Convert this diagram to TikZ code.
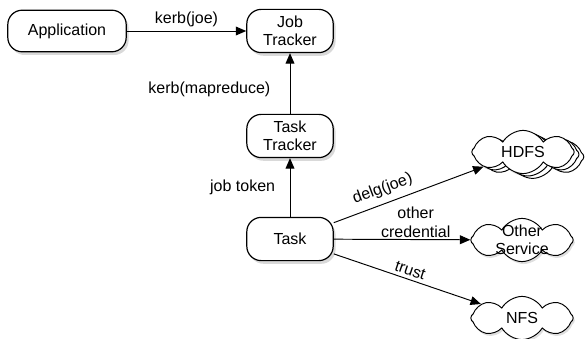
\documentclass[tikz,border=0pt]{standalone}
\usepackage{fontspec}
\setmainfont{Liberation Sans}
\usepackage{tikz}
\usetikzlibrary{arrows.meta,shadows,shapes.symbols}
\definecolor{hdInk}{HTML}{000000}
\definecolor{hdShade}{HTML}{7F7F7F}
\tikzset{
  hd diagram/.style={font=\fontsize{10}{11.5}\selectfont, text=hdInk,
    x=0.625pt, y=-0.625pt, line join=round},
  hd box/.style={draw=hdInk, fill=white, line width=0.75pt,
    rounded corners=9pt, align=center, inner sep=2pt,
    drop shadow={opacity=0.3, shadow xshift=1.5pt, shadow yshift=-2pt}},
  hd cloud/.style={cloud, cloud puffs=8, cloud puff arc=120,
    cloud ignores aspect, draw=hdInk, fill=white, line width=0.6pt,
    minimum width=64pt, minimum height=27pt, inner sep=0pt,
    drop shadow={opacity=0.25, shadow xshift=1pt, shadow yshift=-1.5pt}},
  hd stack/.style={hd cloud,
    copy shadow={shadow xshift=6pt, shadow yshift=-3pt, draw=hdInk, fill=white},
    copy shadow={shadow xshift=3pt, shadow yshift=-1.5pt, draw=hdInk, fill=white}},
  hd text/.style={align=center, inner sep=0pt},
  hd arrow/.style={-{Triangle[length=6.5pt,width=5.5pt]}, draw=hdInk, line width=0.6pt},
  hd label/.style={align=center, inner sep=0pt}
}
\begin{document}
\begin{tikzpicture}[hd diagram]
\useasboundingbox (0,0) rectangle (587,339);
\node[hd box, minimum width=74pt, minimum height=26pt] (app) at (67,31) {Application};
\node[hd box, minimum width=54pt, minimum height=27pt] (jobtracker) at (290,31) {Job\\Tracker};
\node[hd box, minimum width=54pt, minimum height=27pt] (tasktracker) at (290,136) {Task\\Tracker};
\node[hd box, minimum width=54pt, minimum height=27pt] (task) at (290,239) {Task};
\node[hd stack] (hdfs) at (523,152) {};
\node[hd text] at (hdfs.center) {HDFS};
\node[hd cloud] (other) at (522,240) {};
\node[hd text] at (other.center) {Other\\Service};
\node[hd cloud] (nfs) at (522,318) {};
\node[hd text] at (nfs.center) {NFS};
\draw[hd arrow] (app) -- node[hd label, above=2pt] {kerb(joe)} (jobtracker);
\draw[hd arrow] (tasktracker) -- node[hd label, left=12pt, pos=0.4] {kerb(mapreduce)} (jobtracker);
\draw[hd arrow] (task) -- node[hd label, left=9pt] {job token} (tasktracker);
\draw[hd arrow] (task) -- node[hd label, sloped, above=4pt, pos=0.36] {delg(joe)} (hdfs);
\draw[hd arrow] (task) -- node[hd label, above=1pt, pos=0.6] {other\\credential} (other);
\draw[hd arrow] (task) -- node[hd label, sloped, above=2pt, pos=0.5] {trust} (nfs);
\end{tikzpicture}
\end{document}
